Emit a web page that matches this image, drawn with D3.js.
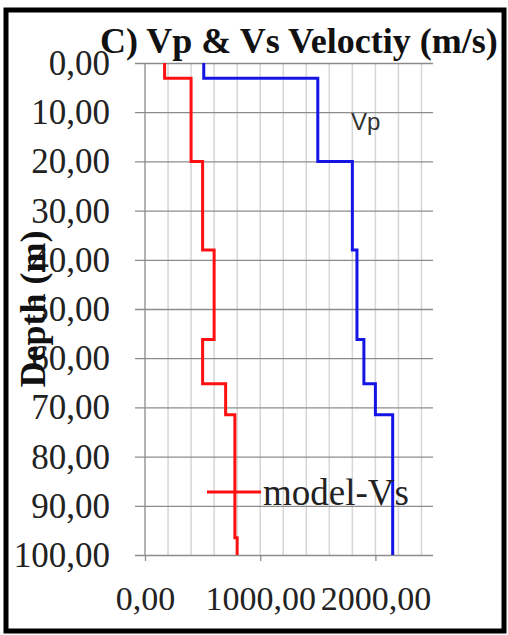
<!DOCTYPE html>
<html>
<head>
<meta charset="utf-8">
<script src="https://cdn.jsdelivr.net/npm/d3@7"></script>
<style>
  html, body { margin: 0; padding: 0; background: #fff; }
  svg { display: block; }
</style>
</head>
<body>
<svg id="chart" width="508" height="635"></svg>
<script>
// Layer tops (m) of the velocity model
const layerTops = [0, 3.1, 20, 38, 56.2, 65.2, 71.5, 96.5];
const maxDepth = 100;
// Shear-wave velocity per layer (m/s)
const vsModel = [170, 400, 500, 600, 500, 700, 780, 800];
// Compressional-wave velocity per layer (m/s)
const vpModel = [510, 1500, 1800, 1840, 1900, 2000, 2150, 2150];
// Axis ticks
const depthTicks = [0, 10, 20, 30, 40, 50, 60, 70, 80, 90, 100];
const velocityTicks = [0, 1000, 2000];
const velocityMinor = d3.range(0, 2401, 200);

const fmt = v => d3.format(".2f")(v).replace(".", ",");

const svg = d3.select("#chart");
const plotLeft = 145, plotRight = 433, plotTop = 63, plotBottom = 555;

const x = d3.scaleLinear().domain([0, 2500]).range([plotLeft, plotRight]);
const y = d3.scaleLinear().domain([0, maxDepth]).range([plotTop, plotBottom]);

// Outer frame
svg.append("rect")
  .attr("x", 6).attr("y", 10).attr("width", 498).attr("height", 621)
  .attr("fill", "#fff").attr("stroke", "#000").attr("stroke-width", 5);

// Minor vertical gridlines
svg.append("g").selectAll("line").data(velocityMinor).join("line")
  .attr("x1", d => x(d)).attr("x2", d => x(d))
  .attr("y1", plotTop).attr("y2", plotBottom)
  .attr("stroke", d => d === 0 ? "#9a9a9a" : "#d6d6d6").attr("stroke-width", 1.5);

// Depth axis with full-width gridlines and outward ticks
const yAxis = d3.axisLeft(y).tickValues(depthTicks)
  .tickSize(0).tickFormat(fmt);
const gy = svg.append("g").attr("transform", `translate(${plotLeft},0)`).call(yAxis);
gy.select(".domain").remove();
gy.selectAll(".tick line")
  .attr("x1", -10).attr("x2", plotRight - plotLeft)
  .attr("stroke", "#8c8c8c").attr("stroke-width", 1.3);
gy.selectAll(".tick text")
  .attr("x", -35).attr("dy", "0.33em")
  .attr("font-family", "'Liberation Serif', 'Times New Roman', serif")
  .attr("font-size", 35).attr("fill", "#222");

// Velocity axis
const xAxis = d3.axisBottom(x).tickValues(velocityTicks)
  .tickSize(6).tickFormat(fmt);
const gx = svg.append("g").attr("transform", `translate(0,${plotBottom})`).call(xAxis);
gx.select(".domain").remove();
gx.selectAll(".tick line").attr("stroke", "#8c8c8c").attr("stroke-width", 1.3);
gx.selectAll(".tick text")
  .attr("y", 55).attr("dy", 0)
  .attr("font-family", "'Liberation Serif', 'Times New Roman', serif")
  .attr("font-size", 34).attr("fill", "#222");

// Step profiles: constant velocity within each layer
function profile(values) {
  const pts = [];
  values.forEach((v, i) => {
    const d0 = layerTops[i];
    const d1 = i + 1 < layerTops.length ? layerTops[i + 1] : maxDepth;
    pts.push([v, d0], [v, d1]);
  });
  return pts;
}
const line = d3.line().x(d => x(d[0])).y(d => y(d[1]));

svg.append("path").datum(profile(vpModel))
  .attr("d", line).attr("fill", "none")
  .attr("stroke", "#1414e6").attr("stroke-width", 3);
svg.append("path").datum(profile(vsModel))
  .attr("d", line).attr("fill", "none")
  .attr("stroke", "#ff1010").attr("stroke-width", 3);

// Series labels
svg.append("text").attr("x", 351).attr("y", 130)
  .attr("font-family", "'Liberation Sans', Arial, sans-serif")
  .attr("font-size", 24).attr("fill", "#333").text("Vp");

svg.append("line")
  .attr("x1", 207).attr("x2", 261).attr("y1", 492).attr("y2", 492)
  .attr("stroke", "#ff1010").attr("stroke-width", 3);
svg.append("text").attr("x", 263).attr("y", 505)
  .attr("font-family", "'Liberation Serif', 'Times New Roman', serif")
  .attr("font-size", 37).attr("fill", "#222").text("model-Vs");

// Titles
svg.append("text").attr("x", 100).attr("y", 53)
  .attr("font-family", "'Liberation Serif', 'Times New Roman', serif")
  .attr("font-weight", "bold").attr("font-size", 36).attr("fill", "#111")
  .text("C) Vp & Vs Veloctiy (m/s)");

svg.append("text")
  .attr("transform", "translate(45,309) rotate(-90)")
  .attr("text-anchor", "middle")
  .attr("font-family", "'Liberation Serif', 'Times New Roman', serif")
  .attr("font-weight", "bold").attr("font-size", 36).attr("fill", "#111")
  .text("Depth (m)");
</script>
</body>
</html>
